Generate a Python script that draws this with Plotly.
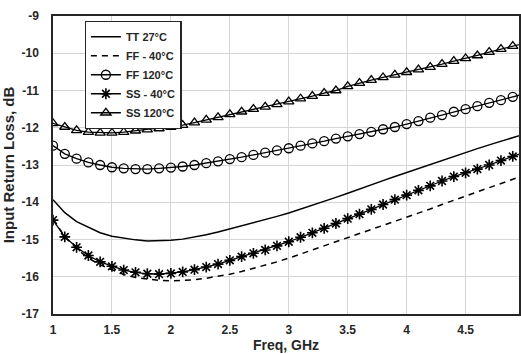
import plotly.graph_objects as go

freq = [1.0, 1.1, 1.2, 1.3, 1.4, 1.5, 1.6, 1.7, 1.8, 1.9,
        2.0, 2.1, 2.2, 2.3, 2.4, 2.5, 2.6, 2.7, 2.8, 2.9,
        3.0, 3.1, 3.2, 3.3, 3.4, 3.5, 3.6, 3.7, 3.8, 3.9,
        4.0, 4.1, 4.2, 4.3, 4.4, 4.5, 4.6, 4.7, 4.8, 4.9, 5.0]

tt_27 = [-13.93, -14.28, -14.52, -14.68, -14.82, -14.91, -14.97, -15.01, -15.04, -15.04,
         -15.02, -14.99, -14.94, -14.87, -14.80, -14.72, -14.64, -14.55, -14.46, -14.38,
         -14.29, -14.19, -14.08, -13.97, -13.87, -13.76, -13.64, -13.53, -13.42, -13.31,
         -13.20, -13.09, -12.98, -12.87, -12.77, -12.66, -12.56, -12.46, -12.36, -12.26, -12.17]

ff_m40 = [-14.45, -14.92, -15.25, -15.50, -15.68, -15.82, -15.94, -16.02, -16.07, -16.10,
          -16.11, -16.10, -16.08, -16.04, -15.99, -15.93, -15.86, -15.78, -15.70, -15.60,
          -15.50, -15.39, -15.28, -15.17, -15.07, -14.97, -14.86, -14.75, -14.64, -14.52,
          -14.41, -14.29, -14.18, -14.06, -13.95, -13.84, -13.73, -13.61, -13.50, -13.38, -13.27]

ff_120 = [-12.48, -12.70, -12.83, -12.93, -13.00, -13.06, -13.09, -13.11, -13.11, -13.09,
          -13.07, -13.04, -13.00, -12.95, -12.90, -12.84, -12.79, -12.73, -12.67, -12.61,
          -12.55, -12.48, -12.42, -12.36, -12.29, -12.23, -12.17, -12.11, -12.04, -11.98,
          -11.90, -11.82, -11.73, -11.66, -11.57, -11.50, -11.42, -11.33, -11.26, -11.17, -11.09]

ss_m40 = [-14.48, -14.93, -15.21, -15.43, -15.60, -15.72, -15.82, -15.88, -15.92, -15.93,
          -15.91, -15.87, -15.81, -15.74, -15.66, -15.56, -15.46, -15.37, -15.28, -15.17,
          -15.06, -14.94, -14.82, -14.70, -14.57, -14.44, -14.32, -14.19, -14.06, -13.93,
          -13.81, -13.68, -13.56, -13.43, -13.31, -13.21, -13.11, -13.00, -12.88, -12.77, -12.66]

ss_120 = [-11.88, -11.98, -12.07, -12.12, -12.14, -12.14, -12.12, -12.08, -12.05, -12.02,
          -11.98, -11.93, -11.86, -11.79, -11.72, -11.64, -11.57, -11.50, -11.44, -11.37,
          -11.30, -11.22, -11.15, -11.07, -11.00, -10.89, -10.80, -10.72, -10.65, -10.58,
          -10.51, -10.44, -10.37, -10.29, -10.21, -10.14, -10.06, -9.97, -9.89, -9.81, -9.73]

x_ticks = [1, 1.5, 2, 2.5, 3, 3.5, 4, 4.5, 5]
y_ticks = [-17, -16, -15, -14, -13, -12, -11, -10, -9]

names = ["TT 27°C", "FF - 40°C", "FF 120°C", "SS - 40°C", "SS 120°C"]

fig = go.Figure()
fig.add_trace(go.Scatter(x=freq, y=tt_27, name=names[0], mode="lines",
                         line=dict(color="black", width=1.5)))
fig.add_trace(go.Scatter(x=freq, y=ff_m40, name=names[1], mode="lines",
                         line=dict(color="black", width=1.5, dash="6px,5px")))
fig.add_trace(go.Scatter(x=freq, y=ff_120, name=names[2], mode="lines+markers",
                         line=dict(color="black", width=1.3),
                         marker=dict(symbol="circle-open", size=9, color="black",
                                     line=dict(width=1.3, color="black"))))
fig.add_trace(go.Scatter(x=freq, y=ss_m40, name=names[3], mode="lines+markers",
                         line=dict(color="black", width=1.3),
                         marker=dict(symbol="asterisk-open", size=9, color="black",
                                     line=dict(width=1.6, color="black"))))
fig.add_trace(go.Scatter(x=freq, y=ss_120, name=names[4], mode="lines+markers",
                         line=dict(color="black", width=1.3),
                         marker=dict(symbol="triangle-up-open", size=9, color="black",
                                     line=dict(width=1.3, color="black"))))

ff = "Liberation Sans, Arial, sans-serif"
axis_font = dict(family=ff, size=12, color="#262626")

fig.update_layout(
    width=521, height=354,
    margin=dict(l=53, r=0, t=16, b=40),
    paper_bgcolor="white", plot_bgcolor="white",
    font=dict(family=ff, color="#262626"),
    showlegend=True,
    legend=dict(x=0.068, y=0.983, xanchor="left", yanchor="top",
                bgcolor="white", bordercolor="#262626", borderwidth=1.2,
                font=dict(family=ff, size=11, color="#262626", weight="bold"),
                tracegroupgap=0, itemwidth=30),
    xaxis=dict(range=[1, 4.953], tickvals=x_ticks, ticktext=[str(v) for v in x_ticks],
               showgrid=True, gridcolor="#d6d6d6", gridwidth=1,
               showline=True, linecolor="#262626", linewidth=1.5, mirror=True,
               ticks="outside", ticklen=4, tickcolor="rgba(0,0,0,0)",
               tickfont=dict(axis_font, weight="bold"), zeroline=False,
               title=dict(text="Freq, GHz", standoff=3,
                          font=dict(family=ff, size=14, color="#262626", weight="bold"))),
    yaxis=dict(range=[-17, -9], tickvals=y_ticks, ticktext=[str(v) for v in y_ticks],
               showgrid=True, gridcolor="#d6d6d6", gridwidth=1,
               showline=True, linecolor="#262626", linewidth=1.5, mirror=True,
               ticks="outside", ticklen=10, tickcolor="rgba(0,0,0,0)",
               tickfont=dict(axis_font, weight="bold"), zeroline=False,
               title=dict(text="Input Return Loss, dB", standoff=4,
                          font=dict(family=ff, size=15, color="#262626", weight="bold"))),
)

fig.write_html("out.html")
